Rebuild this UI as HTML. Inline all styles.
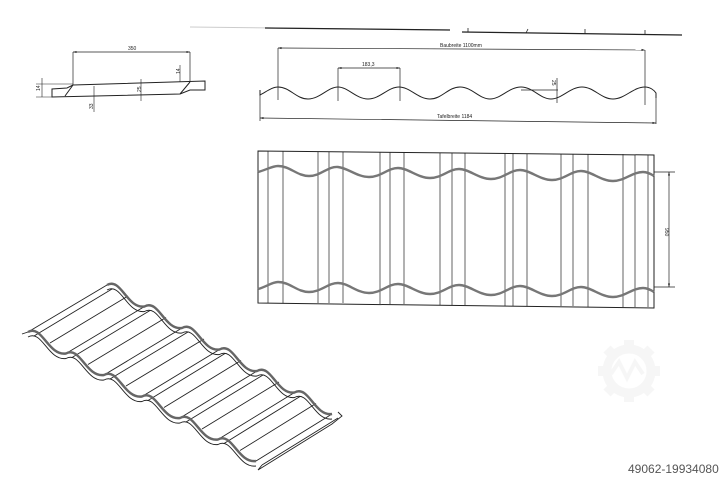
<!DOCTYPE html>
<html><head><meta charset="utf-8"><style>
html,body{margin:0;padding:0;background:#fff;}
svg{display:block;}
text{font-family:"Liberation Sans",sans-serif;}
</style></head><body>
<svg width="724" height="480" viewBox="0 0 724 480" xmlns="http://www.w3.org/2000/svg">
<defs>
<marker id="a" viewBox="0 0 10 10" refX="10" refY="5" markerWidth="5" markerHeight="5" orient="auto-start-reverse"><path d="M0,2 L10,5 L0,8z" fill="#222"/></marker>
</defs>
<g fill="none" stroke="#222" stroke-width="1">
<path d="M190,27 L450,30" stroke="#ccc"/>
<path d="M265,28 L450,30" stroke-width="1.3"/>
<path d="M462,32 L682,35" stroke-width="1.3"/>
<path d="M468,32 v-4 M526,33 l2,-4 M585,34 v-5 M645,35 v-5" stroke-width="0.8"/>

<path d="M73,52 L190,52" marker-start="url(#a)" marker-end="url(#a)" stroke-width="0.7"/>
<path d="M73,52 V85 M190,52 V82" stroke-width="0.7"/>
<path d="M73,85 L205,81 L205,90 L190,90 L180,94 L52,97 L52,89 L67,88 Z"/>
<path d="M73,85 L65,96 M190,82 L180,94" />
<path d="M42,78 V97 M36,84 H73 M36,97 H52 M141,79 V101 M94,86 V112 M180,65 V82" stroke-width="0.6"/>
</g>
<g font-size="5" fill="#222">
<text x="128" y="50">350</text>
<text x="36" y="91" transform="rotate(-90 38 89)">14</text>
<text x="176" y="74" transform="rotate(-90 178 72)">14</text>
<text x="137" y="92" transform="rotate(-90 139 90)">25</text>
<text x="89" y="109" transform="rotate(-90 91 107)">33</text>
</g>

<g fill="none" stroke="#222" stroke-width="1">
<path d="M260,90 L260,95 C266,92 272,87 278,87 C290,87 296,99 308,99 S328,87 338,87 S356,99 368,99 S388,87 399,87 S418,99 430,99 S448,87 460,87 S479,99 490,99 S509,87 521,87 S540,99 551,99 S570,87 582,87 S601,99 613,99 S633,87 645,87 C650,87 654,90 656,93 L656,98"/>
<g stroke-width="0.7">
<path d="M278,48 L645,50" marker-start="url(#a)" marker-end="url(#a)"/>
<path d="M278,48 V100 M645,50 V105 M338,68 V101 M400,68 V101 M260,92 V121 M656,95 V124"/>
<path d="M338,68 L400,68" marker-start="url(#a)" marker-end="url(#a)"/>
<path d="M260,118 L656,123" marker-start="url(#a)" marker-end="url(#a)"/>
<path d="M521,90 H558 M557,78 V103"/>
</g>
</g>
<g font-size="5" fill="#222">
<text x="440" y="47">Baubreite 1100mm</text>
<text x="362" y="66">183,3</text>
<text x="437" y="118">Tafelbreite 1184</text>
<text x="552" y="84" transform="rotate(90 554 82)">25</text>
</g>

<g fill="none" stroke="#222">
<polygon points="258,151 654,155 654,308 258,303" stroke-width="1"/>
<g stroke-width="0.7">
<path d="M268,151V303 M283,151V303 M318,152V303 M329,152V303 M343,152V303 M380,152V304 M390,152V304 M404,152V304 M440,153V305 M452,153V305 M465,153V305 M505,153V306 M513,153V306 M527,154V306 M561,154V306 M573,154V306 M588,154V307 M623,154V307 M635,155V307 M648,155V307"/>
</g>
<path d="M258,172 C266,170 272,166 278,166 C290,166 297,176 309,176 S328,166 338,167 S357,177 369,177 S388,168 398,168 S418,178 430,178 S449,169 459,169 S479,179 491,179 S510,170 520,170 S540,180 552,180 S571,171 581,171 S601,181 613,181 S632,172 643,172 C647,172 651,174 654,176" stroke="#777" stroke-width="2.4"/>
<path d="M258,289 C266,287 272,282 278,282 C290,282 297,292 309,292 S328,283 338,283 S357,293 369,293 S388,284 398,284 S418,294 430,294 S449,285 459,285 S479,295 491,295 S510,286 520,286 S540,296 552,296 S571,287 581,287 S601,297 613,297 S632,288 643,288 C647,288 651,290 654,292" stroke="#777" stroke-width="2.4"/>
<g stroke-width="0.7">
<path d="M669,172 V287" marker-start="url(#a)" marker-end="url(#a)"/>
<path d="M654,172 H675 M654,287 H675"/>
</g>
</g>
<text x="663" y="230" font-size="5" fill="#222" transform="rotate(90 665 230)">950</text>

<g fill="none" stroke="#222" stroke-width="0.9">
<path d="M28,332 L107,285 M66,353.5 L144.5,306.5 M104,375 L182,328 M142,396.5 L219.5,349.5 M180,418 L257,371 M218,439.5 L294.5,392.5 M256,461 L332,414"/>
<path d="M34,336 L112,289 M72,357.5 L150,310.5 M110,379 L188,332 M148,400.5 L225,353.5 M186,422 L263,375 M224,443.5 L300,396.5 M262,465 L338,418"/>
<path d="M50,343 L128,296 M88,364.5 L166,317.5 M126,386 L204,339 M164,407.5 L241,360.5 M202,429 L279,382 M240,450.5 L316,403.5"/>
<path d="M22,334 L28,332 M262,465 L258,470 L332,424 L342,416 L338,412"/>
<path d="M28,337 c14,-8 20,24 38,21.5 c14,-8 20,24 38,21.5 c14,-8 20,24 38,21.5 c14,-8 20,24 38,21.5 c14,-8 20,24 38,21.5 c14,-8 20,24 38,21.5"/>
<path d="M107,290 c14,-8 20,24 37.5,21.5 c14,-8 20,24 37.5,21.5 c14,-8 20,24 37.5,21.5 c14,-8 20,24 37.5,21.5 c14,-8 20,24 37.5,21.5 c14,-8 20,24 37.5,21.5"/>
<g stroke="#666" stroke-width="2.4">
<path d="M28,332 c14,-8 20,24 38,21.5 c14,-8 20,24 38,21.5 c14,-8 20,24 38,21.5 c14,-8 20,24 38,21.5 c14,-8 20,24 38,21.5 c14,-8 20,24 38,21.5"/>
<path d="M107,285 c14,-8 20,24 37.5,21.5 c14,-8 20,24 37.5,21.5 c14,-8 20,24 37.5,21.5 c14,-8 20,24 37.5,21.5 c14,-8 20,24 37.5,21.5 c14,-8 20,24 37.5,21.5"/>
</g>
</g>

<g opacity="0.06" fill="none" stroke="#777" stroke-width="9">
<circle cx="629" cy="371" r="22"/>
<path d="M629,340 V349 M629,393 V402 M598,371 H607 M651,371 H660 M607,349 l6,6 M651,349 l-6,6 M607,393 l6,-6 M651,393 l-6,-6" stroke-width="10"/>
<path d="M611,374 l8,-12 l8,16 l8,-16 l8,12" stroke-width="4"/>
</g>
<text x="628" y="473" font-size="12" fill="#555">49062-19934080</text>
</svg>
</body></html>
